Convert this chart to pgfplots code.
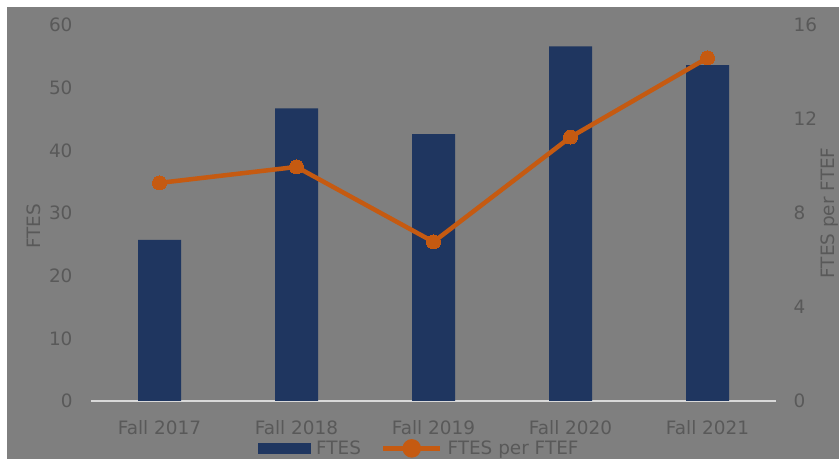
\documentclass[border=0pt]{standalone}
\usepackage{pgfplots}
\pgfplotsset{compat=1.18}
\usepackage{fontspec}
\setmainfont{DejaVu Sans}
\definecolor{bg}{RGB}{127,127,127}
\definecolor{txt}{RGB}{89,89,89}
\definecolor{navy}{RGB}{31,54,96}
\definecolor{orng}{RGB}{197,90,17}
\definecolor{basel}{RGB}{217,217,217}
\newcommand{\chartfont}{\fontsize{18.5}{20}\selectfont}
\begin{document}
\begin{tikzpicture}[x=1bp,y=1bp]
\useasboundingbox (0,0) rectangle (839,460);
\fill[white] (0,0) rectangle (839,460);
\fill[bg] (7,1) rectangle (839,453);
\begin{axis}[
  at={(91bp,59bp)}, anchor=south west,
  scale only axis, width=685bp, height=376bp,
  xmin=-0.5, xmax=4.5, ymin=0, ymax=60,
  xtick={0,1,2,3,4},
  xticklabels={Fall 2017,Fall 2018,Fall 2019,Fall 2020,Fall 2021},
  ytick={0,10,...,60},
  axis x line*=bottom, axis y line*=left,
  x axis line style={-, draw=basel, line width=1.5bp},
  y axis line style={draw=none},
  major tick length=0pt,
  tick label style={font=\chartfont, text=txt},
  /pgf/number format/assume math mode=true,
  xticklabel style={yshift=-16bp},
  yticklabel style={xshift=-15bp},
  ylabel={FTES},
  ylabel style={at={(axis description cs:-0.083,0.465)}, anchor=center, font=\chartfont, text=txt},
]
\addplot[ybar, bar width=43bp, fill=navy, draw=none] coordinates {(0,25.7) (1,46.7) (2,42.6) (3,56.6) (4,53.6)};
\end{axis}
\begin{axis}[
  at={(91bp,59bp)}, anchor=south west,
  scale only axis, width=685bp, height=376bp,
  xmin=-0.5, xmax=4.5, ymin=0, ymax=16,
  ytick={0,4,...,16},
  axis x line=none, axis y line*=right,
  y axis line style={draw=none},
  major tick length=0pt,
  tick label style={font=\chartfont, text=txt},
  /pgf/number format/assume math mode=true,
  yticklabel style={xshift=14bp},
  ylabel={FTES per FTEF},
  ylabel style={at={(axis description cs:1.078,0.5)}, anchor=center, font=\chartfont, text=txt},
  legend columns=2,
  legend style={draw=none, fill=none, at={(0.479,-0.126)}, anchor=center, font=\chartfont, text=txt,
    inner sep=0pt, /tikz/every even column/.append style={column sep=18bp}},
]
\addlegendimage{legend image code/.code={\fill[navy] (0bp,-5bp) rectangle (52bp,5bp); \path (56bp,0bp);}}
\addlegendentry{FTES}
\addplot[orng, line width=4.5bp, mark=*, mark size=7bp, mark options={fill=orng, draw=orng, line width=0pt},
  legend image code/.code={\draw[orng, line width=4.5bp] (0bp,0bp) -- (57bp,0bp); \fill[orng] (28.5bp,0bp) circle (7bp); \path (60bp,0bp);}]
  coordinates {(0,9.28) (1,9.96) (2,6.77) (3,11.23) (4,14.6)};
\addlegendentry{FTES per FTEF}
\end{axis}
\end{tikzpicture}
\end{document}
